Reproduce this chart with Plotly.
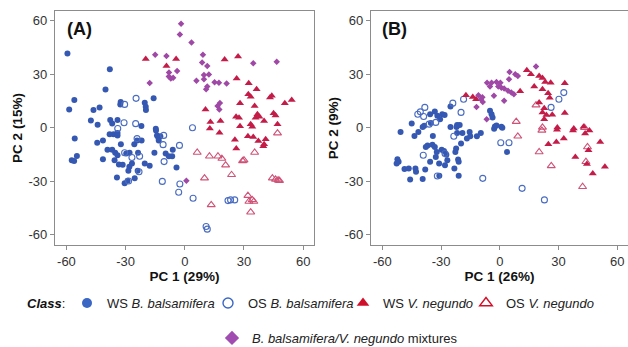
import plotly.graph_objects as go

# ---------------- data ----------------
tick_vals = [-60, -30, 0, 30, 60]
tick_text = ["-60", "-30", "0", "30", "60"]

class_names = ["WS <i>B. balsamifera</i>", "OS <i>B. balsamifera</i>",
               "WS <i>V. negundo</i>", "OS <i>V. negundo</i>",
               "<i>B. balsamifera/V. negundo</i> mixtures"]

# Panel A
ws_b_a_x = [-59.5, -58.6, -56, -38, -40.2, -43.2, -46.3, -32.5, -32.7, -20.3, -19.8, -19.7, -15.8, -47.6, -44.2, -37.8, -36.8, -34.1, -22, -14.7,
            -55.8, -54.7, -57.3, -56.1, -44.4, -41.5, -41.5, -39.2, -36.8, -36.1, -34.1, -34.1, -32.4, -35.3, -34.1, -35.6, -33.4, -31.5, -29.7, -28,
            -28.1, -28.6, -23.9, -34.4, -30.5, -29, -25.4, -26.8, -25.6, -24.2, -21.9, -23.7, -20.3, -17.8, -15.4, -14.6, -14.1, -13.4, -12.4, -13.2,
            -9.7, -8.1, -6.4, -4.2, -6.1, -38.1]
ws_b_a_y = [41.6, 10.3, 15.6, 32.8, 21.4, 11.3, 10, 14.4, 13, 14, 11.8, 10, 16.5, 4.1, 1.7, 4.3, 2.4, 4.3, 1, -0.6,
            -6.1, -15.8, -18.2, -18.6, -8.4, -7.1, -17.7, -12.3, -12.3, -3.7, -4.3, -3, -9.3, -14.1, -15.4, -18.2, -20.6, -20.8, -14.5, -14.1,
            -21.9, -24.2, -24.2, -27.9, -31.2, -29.7, -28.4, -20.1, -9.3, -7.1, -7.1, -14.1, -20.1, -21.4, -14.1, -1.5, -4.3, -5.6, -4.8, -7.1,
            -14.5, -16, -16, -22.3, -12.3, -3.7]

os_b_a_x = [-30.5, -24.7, -30.8, -24.9, -34, 3.9, -30.5, -24.2, -26.8, -22.9, -23.2, -28.5, -10.7, -11, -10.5, -11.4, -2.7, -2.5, -3.1, 4.2,
            10.8, 11.4, 21.9, 23.2, 25.3]
os_b_a_y = [13.1, 16.5, 2.8, 2.3, -0.4, 0, -14, -6.1, -16.7, -16, -24.7, -29.9, -4.3, -9.5, -19, -30.1, -9.9, -31.6, -36.2, -39.6,
            -55.4, -56.9, -40.9, -40.5, -40.5]

ws_v_a_x = [-19.8, -4.4, -9.3, 20.2, 27, 26.3, 32.4, 36.4, 32.2, 33.4, 44.1, 43.2, 50.7, 54.2, 28, 35.4, 10.5, 45, 46, 26,
            27.5, 36.8, 35.9, 37.8, 40.2, 18.1, 13, 33.4, 34.2, 28, 47, 12.7, 17.6, 25.4, 26.1, 32, 34.7, 37.3, 41, 40.2, 39.8]
ws_v_a_y = [38.5, 38.5, 34.7, 38.3, 40, 27.6, 25, 21.6, 18.8, 17.4, 18, 16.9, 13.7, 15.6, 13.7, 12.2, 10.3, 8.1, 6.9, 6.2,
            5.6, 7.5, 5.6, 6.2, 3.8, 3.8, 3.2, 1.9, 0.6, 0.9, 1.9, -0.4, -2.8, -6.7, -11.7, -4.8, -5.2, -7.4, -6.5, -9.3, -10.4]

os_v_a_x = [47, 6.3, 12.5, 16.8, 18.8, 20.7, 29.3, 30, 35.4, 10, 23.7, 44.4, 46, 47.3, 48, 13.4, 32, 32.5, 34.2, 35, 33.4]
os_v_a_y = [-3, -13.9, -16, -16, -17.3, -21, -18.6, -18.2, -13.9, -28.3, -26.4, -28.3, -29, -29.4, -29.7, -43.3, -38.1, -41.4, -40.5, -41.4, -47.4]

mix_a_x = [-1.9, -2.5, 3.4, -15, -9.3, 9.2, 8.8, 11.4, 34.7, 46.6, -8.0, -3.9, -17.8, -8.1, -7.1, -5.9, 5.9, 9.7, 12.2, 9.7,
           11.4, 10.8, 15.1, 17.3, 21.2, 17.8, 16.6, 17.5, 0.8]
mix_a_y = [58.3, 52.3, 47.8, 40.9, 40.3, 40.9, 36.6, 34.7, 36.2, 37, 31.0, 31.9, 25.1, 28.7, 27.6, 28, 26.3, 29.6, 29.8, 27.2,
           23.1, 21.6, 25.5, 25.3, 24.8, 13.9, 12.2, 10.3, -29.7]

# Panel B
ws_b_b_x = [-33.2, -35.6, -31.9, -29.4, -30.5, -28.2, -25.2, -45, -38.6, -35.2, -21.8, -20.5, -5, -4.2, -3.7, -2.5, 0.8, -50.7, -52.3, -51.7,
            -52.7, -48.7, -46.5, -45.8, -43.1, -42.8, -43.6, -41.6, -39.4, -39.4, -38.1, -36.9, -37.8, -35.6, -34.2, -34.4, -33.2, -32.2, -32.7, -31,
            -29.7, -28.5, -27.3, -28, -26.8, -30.9, -23.2, -21, -25.2, -22.1, -21.8, -19.1, -22.3, -22.7, -21.3, -21, -19.8, -16.8, -15.4, -15.1,
            -11.7, -9.7, -2.9, -1.7, 1.3, 3.7]
ws_b_b_y = [9.1, 7.6, 6.7, 7.6, 4.8, 7.1, 11.9, 2.4, 1.1, 2.6, 1.5, 1.5, 9.5, 7.6, 5.8, 0.7, 0.6, -2.4, -17.7, -19.1,
            -20.1, -23.2, -22.9, -29, -22.9, -24.7, -4.6, -2.4, 0.4, -28.8, -23.4, -9.9, -10.8, -19.1, -4.6, -9.5, -10.8, -13.6, -16.4, -20.1,
            -12.3, -13, -15.1, -21, -18.2, -27, -22.9, -27, 0.4, 0.4, -3, -3, -11.7, -13.6, -17.8, -19.1, -8.9, -6.1, -2.4, -4.8,
            -4.8, -3, -0.6, 1.3, 0, -13.6]

os_b_b_x = [-38.3, -40.6, -38.9, -41.9, -36.1, -32.7, -24, -18.5, -19.8, 26.2, 30.2, 32.7, -39.1, -23.5, -28, -31.9, 0.5, 4.7, -8.7, 11.4, 22.8]
os_b_b_y = [11.4, 8.9, 6.3, 7.6, 2, 3, 13.8, 16, 8.6, 11.4, 16, 19.7, -15.4, -4.8, -14.5, -27.1, -8.4, -8.4, -28.4, -34, -40.5]

ws_v_b_x = [-17.3, -13.8, -12.1, 10.4, 13.8, 15.9, 20.1, 21.8, 23.2, 26, 33.2, 17.6, 21.8, 24.7, 25.5, 20.1, 22.7, 21.8, 23.8, 26.8,
            22.7, 33.2, 29.4, 37.8, 42.8, 29.2, 24.8, 28.9, 32.7, 37.4, 43.6, 45.8, 38.6, 45.3, 44.5, 47.5, 51.3, 53.7]
ws_v_b_y = [18.2, 17.3, 16, 20.5, 32.2, 30, 29, 27.9, 25.7, 25.3, 25, 23.1, 21.6, 19.4, 16.8, 14.2, 11, 8.6, 7.1, 7.3,
            4.8, 8.2, 0.2, -0.4, 0.6, -1.1, -9.3, -8, -6.1, -1.5, -3.3, -1.5, -16.4, -12.6, -20.4, -25.7, -8, -21.9]

os_v_b_x = [18.5, 8.4, 21.8, 9.2, 21.5, 20.1, 26.3, 43.3, 44.8, 44, 42.3]
os_v_b_y = [12.7, 3.4, 0.2, -4.8, -1.5, -13.6, -21.4, 0, -10.8, -19.1, -33.1]

mix_b_x = [18.5, 5, 7.9, 9.2, 4.7, -6.5, -4.2, -1.7, 0.3, -5, -0.8, 0.8, 2.2, 4.2, 5.9, 7.2, -10.9, -8.9, -9.6, -8.7,
           -11.9, 2.2, -3, -6.7]
mix_b_y = [34.3, 31.3, 30, 29, 27.2, 25.3, 25.3, 25.7, 25.3, 23.1, 23.1, 22.5, 22, 20.7, 19.7, 18.8, 18.2, 17.1, 16, 14.5,
           11.7, 15.1, 17.9, 4.8]

# ---------------- styles ----------------
BLUE = "#3558b2"
BLUE_O = "#4a6cc0"
RED = "#c41c48"
RED_O = "#cf5277"
PURPLE = "#9f48a6"
FONT = "Liberation Sans, Arial, sans-serif"

styles = [
    dict(symbol="circle", size=6, color=BLUE, line=dict(width=0)),
    dict(symbol="circle-open", size=6, color=BLUE_O, line=dict(width=1.1)),
    dict(symbol="triangle-up", size=7, color=RED, line=dict(width=0)),
    dict(symbol="triangle-up-open", size=7, color=RED_O, line=dict(width=1.1)),
    dict(symbol="diamond", size=5, color=PURPLE, line=dict(width=0)),
]
legend_styles = [
    dict(symbol="circle", size=10, color="#3a66c4", line=dict(width=0)),
    dict(symbol="circle-open", size=10, color="#3a66c4", line=dict(width=1.4)),
    dict(symbol="triangle-up", size=11, color="#d0102a", line=dict(width=0)),
    dict(symbol="triangle-up-open", size=11, color="#d0102a", line=dict(width=1.4)),
    dict(symbol="diamond", size=11, color="#a04cb0", line=dict(width=0)),
]

panel_a = [(ws_b_a_x, ws_b_a_y), (os_b_a_x, os_b_a_y), (ws_v_a_x, ws_v_a_y), (os_v_a_x, os_v_a_y), (mix_a_x, mix_a_y)]
panel_b = [(ws_b_b_x, ws_b_b_y), (os_b_b_x, os_b_b_y), (ws_v_b_x, ws_v_b_y), (os_v_b_x, os_v_b_y), (mix_b_x, mix_b_y)]
legend_ids = ["legend", "legend2", "legend3", "legend4", "legend5"]

fig = go.Figure()
order = [0, 1, 3, 2, 4]
for panel, xa, ya in [(panel_a, "x", "y"), (panel_b, "x2", "y2")]:
    for i in order:
        x, y = panel[i]
        fig.add_trace(go.Scatter(x=x, y=y, mode="markers", marker=styles[i], name=class_names[i],
                                 xaxis=xa, yaxis=ya, showlegend=False))
# legend-only entries (larger symbols, as in the reference key)
for i in range(5):
    fig.add_trace(go.Scatter(x=[None], y=[None], mode="markers", marker=legend_styles[i], name=class_names[i],
                             xaxis="x", yaxis="y", legend=legend_ids[i], showlegend=True))

W, H = 628, 347
def px(v):
    return v / W
def py(v):
    return 1 - v / H

axis_common = dict(
    range=[-65.8, 65.5], tickvals=tick_vals, ticktext=tick_text, showgrid=False, zeroline=False,
    showline=True, mirror=True, linecolor="#8c8c8c", linewidth=1.2, ticks="outside", ticklen=4,
    tickcolor="#8c8c8c", tickfont=dict(family=FONT, size=13, color="#333333"), automargin=False,
)
title_font = dict(family=FONT, size=13.5, color="#111111")

fig.update_layout(
    width=W, height=H, margin=dict(l=0, r=0, t=0, b=0, autoexpand=False),
    paper_bgcolor="white", plot_bgcolor="white",
    font=dict(family=FONT, size=13, color="#222222"),
    xaxis=dict(axis_common, domain=[px(55), px(314)], anchor="y",
               title=dict(text="<b>PC 1 (29%)</b>", font=title_font, standoff=0)),
    yaxis=dict(axis_common, domain=[py(245), py(11)], anchor="x",
               title=dict(text="<b>PC 2 (15%)</b>", font=title_font, standoff=2)),
    xaxis2=dict(axis_common, domain=[px(371), 1.0], anchor="y2",
                title=dict(text="<b>PC 1 (26%)</b>", font=title_font, standoff=0)),
    yaxis2=dict(axis_common, domain=[py(245), py(11)], anchor="x2", mirror=False,
                title=dict(text="<b>PC 2 (9%)</b>", font=title_font, standoff=2)),
    annotations=[
        dict(text="<b>(A)</b>", xref="x domain", yref="y domain", x=0.04, y=0.975, xanchor="left", yanchor="top",
             showarrow=False, font=dict(family=FONT, size=18, color="#111111")),
        dict(text="<b>(B)</b>", xref="x2 domain", yref="y2 domain", x=0.035, y=0.975, xanchor="left", yanchor="top",
             showarrow=False, font=dict(family=FONT, size=18, color="#111111")),
        dict(text="<b><i>Class</i></b>:", xref="paper", yref="paper", x=px(25), y=py(303), xanchor="left",
             yanchor="middle", showarrow=False, font=dict(family=FONT, size=13, color="#111111")),
    ],
)

leg_common = dict(orientation="h", yanchor="middle", xanchor="left", bgcolor="rgba(0,0,0,0)",
                  itemsizing="trace", font=dict(family=FONT, size=13, color="#222222"),
                  tracegroupgap=0)
fig.update_layout(
    legend=dict(leg_common, x=px(67), y=py(303)),
    legend2=dict(leg_common, x=px(208), y=py(303)),
    legend3=dict(leg_common, x=px(343), y=py(303)),
    legend4=dict(leg_common, x=px(466), y=py(303)),
    legend5=dict(leg_common, x=px(212), y=py(338)),
)

fig.write_html("out.html", post_script="document.body.style.margin='0px';",
               config={"displayModeBar": False})
